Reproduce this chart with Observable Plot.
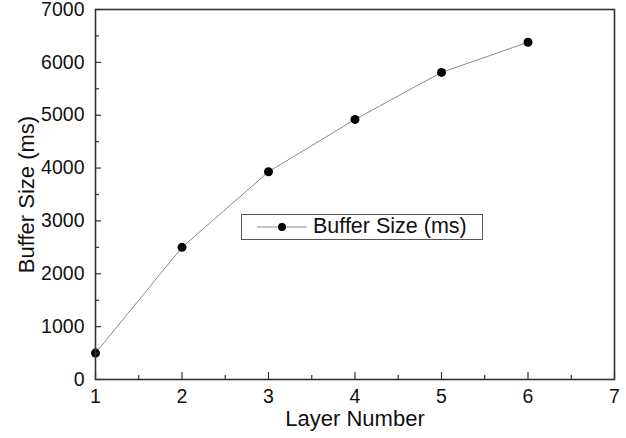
<!DOCTYPE html>
<html>
<head>
<meta charset="utf-8">
<script src="https://cdn.jsdelivr.net/npm/d3@7"></script>
<script src="https://cdn.jsdelivr.net/npm/@observablehq/plot@0.6"></script>
<style>
  html, body { margin: 0; padding: 0; background: #fff; }
  #wrap { position: relative; width: 626px; height: 438px; font-family: "Liberation Sans", Arial, sans-serif; }
  #legend { position: absolute; left: 241px; top: 214px; width: 242px; height: 26px; border: 1px solid #555; background: #fff; box-sizing: border-box; display: flex; align-items: center; }
  #legend svg { margin-left: 15px; }
  #legend span { font-size: 21.5px; color: #111; margin-left: 6px; line-height: 1; }
</style>
</head>
<body>
<div id="wrap"></div>
<script>
const layers = [1, 2, 3, 4, 5, 6];
const bufferSize = [500, 2500, 3930, 4920, 5810, 6380];
const xTicks = [1, 2, 3, 4, 5, 6, 7];
const xMinor = [1.5, 2.5, 3.5, 4.5, 5.5, 6.5];
const yTicks = [0, 1000, 2000, 3000, 4000, 5000, 6000, 7000];
const yMinor = [500, 1500, 2500, 3500, 4500, 5500, 6500];
const seriesName = "Buffer Size (ms)";
const xTitle = "Layer Number";
const yTitle = "Buffer Size (ms)";

const data = layers.map((x, i) => ({x, y: bufferSize[i]}));

const W = 626, H = 438;
const mL = 95, mR = 12, mT = 9, mB = 59;
const pw = W - mL - mR, ph = H - mT - mB;
const axisColor = "#333";
const font = "'Liberation Sans', Arial, sans-serif";

const chart = Plot.plot({
  width: W, height: H,
  marginLeft: mL, marginRight: mR, marginTop: mT, marginBottom: mB,
  style: {fontFamily: font, color: "#111", background: "#fff", overflow: "visible"},
  x: {domain: [1, 7], axis: null},
  y: {domain: [0, 7000], axis: null},
  marks: [
    Plot.line(data, {x: "x", y: "y", stroke: "#8a8a8a", strokeWidth: 1}),
    Plot.dot(data, {x: "x", y: "y", r: 4.5, fill: "#000", stroke: "none"}),
    Plot.tickY(yTicks, {y: d => d, insetRight: pw - 6, stroke: axisColor, strokeWidth: 1.2}),
    Plot.tickY(yMinor, {y: d => d, insetRight: pw - 4, stroke: axisColor, strokeWidth: 1.2}),
    Plot.tickX(xTicks, {x: d => d, insetTop: ph - 7, stroke: axisColor, strokeWidth: 1.2}),
    Plot.tickX(xMinor, {x: d => d, insetTop: ph - 4, stroke: axisColor, strokeWidth: 1.2}),
    Plot.frame({stroke: axisColor, strokeWidth: 1.6}),
    Plot.text(yTicks, {y: d => d, text: d => String(d), frameAnchor: "left", textAnchor: "end", dx: -11, fontSize: 19.5, fill: "#111"}),
    Plot.text(xTicks, {x: d => d, text: d => String(d), frameAnchor: "bottom", textAnchor: "middle", lineAnchor: "middle", dy: 17, fontSize: 19.5, fill: "#111"}),
    Plot.text([xTitle], {text: d => d, frameAnchor: "bottom", textAnchor: "middle", lineAnchor: "middle", dy: 39, fontSize: 22, fill: "#111"}),
    Plot.text([yTitle], {text: d => d, frameAnchor: "left", textAnchor: "middle", lineAnchor: "middle", rotate: -90, dx: -69, fontSize: 22, fill: "#111"})
  ]
});

const wrap = document.getElementById("wrap");
wrap.appendChild(chart);

// legend overlay
const legend = document.createElement("div");
legend.id = "legend";
const ns = "http://www.w3.org/2000/svg";
const sv = document.createElementNS(ns, "svg");
sv.setAttribute("width", 50); sv.setAttribute("height", 12);
const ln = document.createElementNS(ns, "line");
ln.setAttribute("x1", 0); ln.setAttribute("x2", 50); ln.setAttribute("y1", 6); ln.setAttribute("y2", 6);
ln.setAttribute("stroke", "#8a8a8a"); ln.setAttribute("stroke-width", 1);
const c = document.createElementNS(ns, "circle");
c.setAttribute("cx", 25); c.setAttribute("cy", 6); c.setAttribute("r", 4); c.setAttribute("fill", "#000");
sv.appendChild(ln); sv.appendChild(c);
const sp = document.createElement("span");
sp.textContent = seriesName;
legend.appendChild(sv); legend.appendChild(sp);
wrap.appendChild(legend);
</script>
</body>
</html>
